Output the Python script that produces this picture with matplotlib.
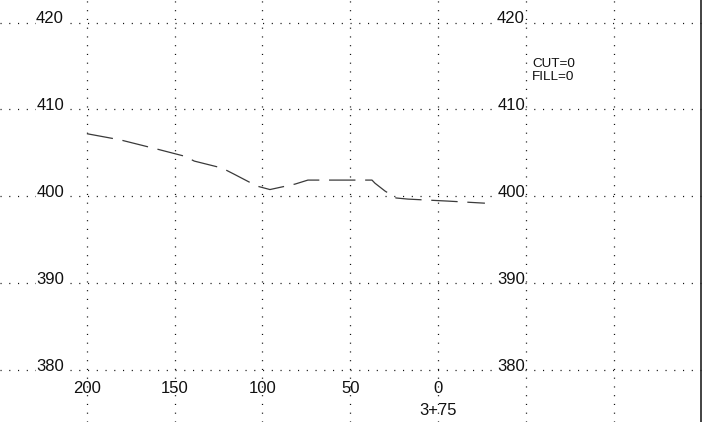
import matplotlib.pyplot as plt
from matplotlib.lines import Line2D

plt.rcParams['font.family'] = ['Liberation Sans', 'DejaVu Sans']
plt.rcParams['lines.scale_dashes'] = False

# ground profile (offset, elevation)
offsets = [199.9, 181.1, 159.4, 144.1, 138.8, 123.0, 116.2, 103.1, 95.7, 81.4,
           74.1, 53.0, 37.6, 35.9, 30.2, 23.9, 17.1, -5.7, -26.7]
elevs = [407.2, 406.5, 405.4, 404.6, 404.05, 403.25, 402.55, 401.17, 400.77, 401.4,
         401.86, 401.86, 401.86, 401.5, 400.6, 399.8, 399.67, 399.44, 399.2]

x_grid = [200, 150, 100, 50, 0, -50, -100]
x_labels = ['200', '150', '100', '50', '0']
y_grid = [420, 410, 400, 390, 380]
station = '3+75'
notes = ['CUT=0', 'FILL=0']

fig = plt.figure(figsize=(7.02, 4.22), dpi=100)
ax = fig.add_axes([0, 0, 1, 1])
ax.set_xlim(249.4, -150.3)
ax.set_ylim(374.0, 422.6)
ax.axis('off')

dot = (0, (0.8, 5.5))
for x in x_grid:
    ax.axvline(x, color='#111111', lw=0.9, ls=dot, zorder=1)
for y in y_grid:
    ax.plot([249.4, -149.5], [y, y], color='#111111', lw=0.9, ls=dot, zorder=1)

# elevation labels, left and right
for y in y_grid:
    for xl in (213, -49.5):
        ax.text(xl, y - 0.1, str(y), ha='right', va='baseline', fontsize=12,
                color='#111111', zorder=3,
                bbox=dict(facecolor='white', edgecolor='none', pad=0.2))

for x, lab in zip(x_grid, x_labels):
    ax.text(x, 377.3, lab, ha='center', va='baseline', fontsize=12,
            color='#111111', zorder=3)
ax.text(0, 374.8, station, ha='center', va='baseline', fontsize=12,
        color='#111111', zorder=3)

ax.text(-53.5, 414.9, notes[0], ha='left', va='baseline', fontsize=9.7, color='#111111')
ax.text(-53.5, 413.4, notes[1], ha='left', va='baseline', fontsize=9.7, color='#111111')

ax.plot(offsets, elevs, color='#3a3a3a', lw=0.9, dashes=(19, 7), zorder=2)

# right border
fig.add_artist(Line2D([700.5 / 702, 700.5 / 702], [0, 1], color='#222222', lw=1.2))

fig.savefig('out.png', dpi=100)
